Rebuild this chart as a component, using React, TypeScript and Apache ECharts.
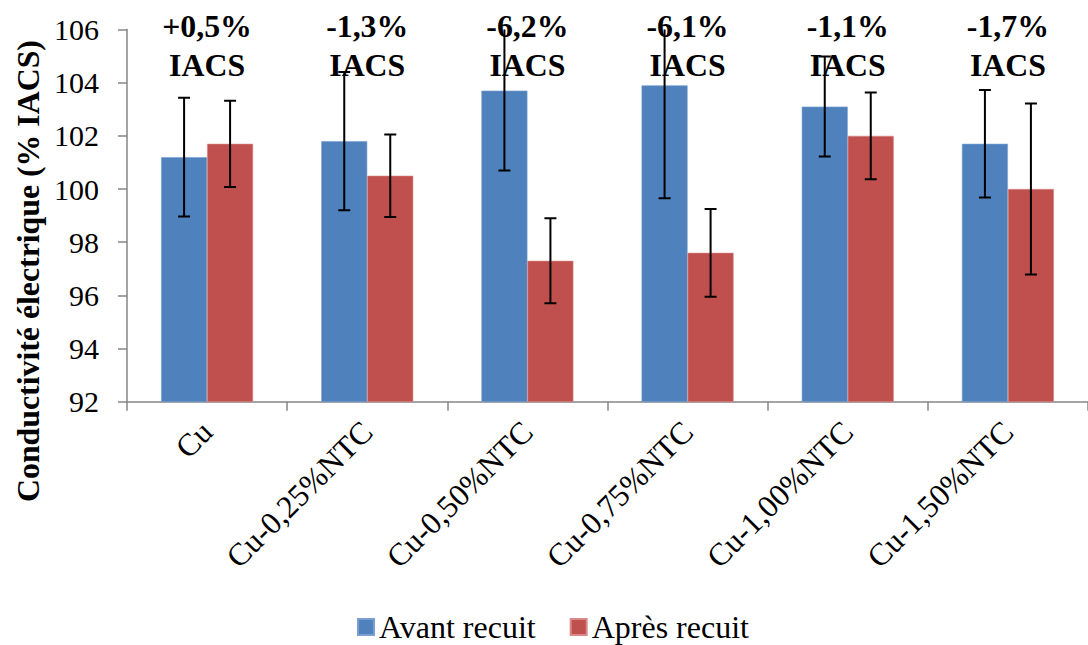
import React, { useEffect, useRef } from "react";
import * as echarts from "echarts";

const categories = ["Cu", "Cu-0,25%NTC", "Cu-0,50%NTC", "Cu-0,75%NTC", "Cu-1,00%NTC", "Cu-1,50%NTC"];
const avant = [101.2, 101.8, 103.7, 103.9, 103.1, 101.7];
const apres = [101.7, 100.5, 97.3, 97.6, 102.0, 100.0];
const errAvant = [2.23, 2.6, 3.0, 4.25, 1.88, 2.02];
const errApres = [1.62, 1.55, 1.6, 1.65, 1.63, 3.22];
const changes = ["+0,5%", "-1,3%", "-6,2%", "-6,1%", "-1,1%", "-1,7%"];
const Y_MIN = 92;
const Y_MAX = 106;
const Y_STEP = 2;

const FONT = "Liberation Serif";
const BLUE = "#4F81BD";
const RED = "#C0504D";
const AXIS = "#868686";
const BAR_W = 46;

function errorSeries(name: string, values: number[], errs: number[], offset: number) {
  return {
    type: "custom",
    name,
    clip: true,
    z: 5,
    encode: { x: 0, y: [1, 2] },
    data: values.map((v, i) => [i, v - errs[i], v + errs[i]]),
    renderItem: (params: any, api: any) => {
      const i = api.value(0);
      const lo = api.coord([i, api.value(1)]);
      const hi = api.coord([i, api.value(2)]);
      const x = lo[0] + offset;
      const style = { stroke: "#000", lineWidth: 2 };
      return {
        type: "group",
        children: [
          { type: "line", shape: { x1: x, y1: lo[1], x2: x, y2: hi[1] }, style },
          { type: "line", shape: { x1: x - 6, y1: lo[1], x2: x + 6, y2: lo[1] }, style },
          { type: "line", shape: { x1: x - 6, y1: hi[1], x2: x + 6, y2: hi[1] }, style },
        ],
      };
    },
  };
}

export default function App() {
  const ref = useRef<HTMLDivElement>(null);
  useEffect(() => {
    if (!ref.current) return;
    const chart = echarts.init(ref.current, null, { renderer: "svg" });
    chart.setOption({
      animation: false,
      backgroundColor: "#fff",
      textStyle: { fontFamily: FONT },
      grid: { left: 127, top: 29.5, bottom: 243.3, right: -7, containLabel: false },
      legend: {
        data: ["Avant recuit", "Après recuit"],
        bottom: 2,
        left: 357,
        icon: "rect",
        itemWidth: 16,
        itemHeight: 16,
        itemGap: 34,
        padding: 0,
        textStyle: { fontFamily: FONT, fontSize: 32, color: "#000" },
      },
      graphic: [
        {
          type: "text",
          x: 28,
          y: 271,
          rotation: Math.PI / 2,
          style: {
            text: "Conductivité électrique (% IACS)",
            fontFamily: FONT,
            fontSize: 31.8,
            fontWeight: "bold",
            fill: "#000",
            align: "center",
            verticalAlign: "middle",
          },
        },
      ],
      xAxis: {
        type: "category",
        data: categories,
        boundaryGap: true,
        axisLine: { lineStyle: { color: AXIS, width: 1.5 } },
        axisTick: { show: true, length: 9, lineStyle: { color: AXIS, width: 1.5 } },
        axisLabel: {
          rotate: 45,
          interval: 0,
          margin: 25,
          fontFamily: FONT,
          fontSize: 31.5,
          color: "#000",
        },
      },
      yAxis: {
        type: "value",
        min: Y_MIN,
        max: Y_MAX,
        interval: Y_STEP,
        splitLine: { show: false },
        axisLine: { show: true, lineStyle: { color: AXIS, width: 1.5 } },
        axisTick: { show: true, length: 9, lineStyle: { color: AXIS, width: 1.5 } },
        axisLabel: { fontFamily: FONT, fontSize: 30, color: "#000", margin: 28 },
      },
      series: [
        {
          type: "bar",
          name: "Avant recuit",
          data: avant,
          barWidth: BAR_W,
          barGap: "0%",
          itemStyle: { color: BLUE, borderColor: "#7A9FD0", borderWidth: 0.6 },
        },
        {
          type: "bar",
          name: "Après recuit",
          data: apres,
          barWidth: BAR_W,
          barGap: "0%",
          itemStyle: { color: RED, borderColor: "#D98987", borderWidth: 0.6 },
        },
        errorSeries("errAvant", avant, errAvant, -BAR_W / 2),
        errorSeries("errApres", apres, errApres, BAR_W / 2),
        {
          type: "custom",
          name: "changes",
          clip: false,
          z: 3,
          encode: { x: 0, y: 1 },
          data: changes.map((c, i) => [i, Y_MAX, c]),
          renderItem: (params: any, api: any) => {
            const p = api.coord([api.value(0), api.value(1)]);
            return {
              type: "text",
              x: p[0],
              y: p[1] - 23,
              style: {
                text: changes[params.dataIndex] + "\nIACS",
                fontFamily: FONT,
                fontSize: 31.8,
                fontWeight: "bold",
                lineHeight: 39.5,
                fill: "#000",
                align: "center",
                verticalAlign: "top",
              },
            };
          },
        },
      ],
    });
    return () => chart.dispose();
  }, []);
  return (
    <div
      ref={ref}
      style={{ position: "fixed", left: 0, top: 0, width: 1088, height: 645, background: "#fff" }}
    />
  );
}
